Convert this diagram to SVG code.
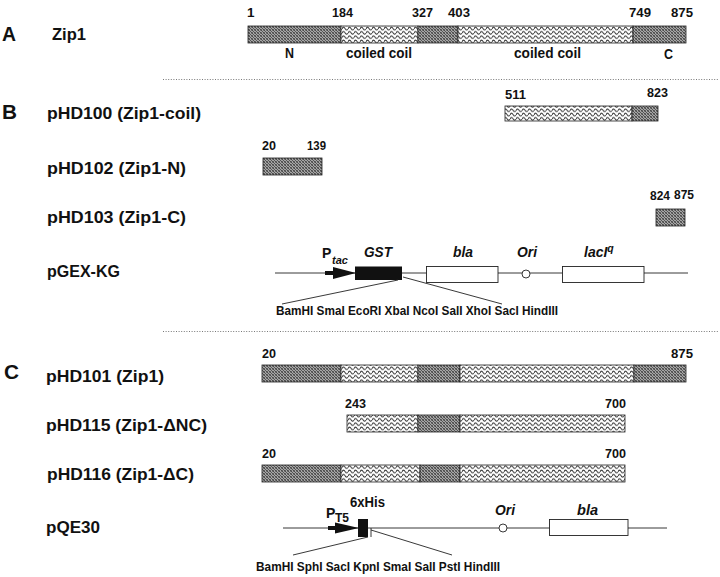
<svg xmlns="http://www.w3.org/2000/svg" width="720" height="577" viewBox="0 0 720 577">
<defs>
<pattern id="dark" patternUnits="userSpaceOnUse" width="3" height="3">
<rect width="3" height="3" fill="#a6a6a6"/>
<rect width="1" height="1" fill="#4a4a4a"/>
<rect x="1" y="1" width="1" height="1" fill="#555"/>
<rect x="2" y="2" width="1" height="1" fill="#4a4a4a"/>
<rect x="2" y="0" width="1" height="1" fill="#777"/>
<rect x="0" y="2" width="1" height="1" fill="#666"/>
</pattern>
<pattern id="coil" patternUnits="userSpaceOnUse" width="6" height="4.3" y="0.5">
<rect width="6" height="4.3" fill="#fff"/>
<path d="M0,2.6 C1,0.5 2,0.5 3,2.2 C4,4 5,4 6,2.6" fill="none" stroke="#333" stroke-width="1"/>
</pattern>
<style>
text{font-family:"Liberation Sans",Arial,sans-serif;font-weight:bold;fill:#111}
.sec{font-size:20px}
.lab{font-size:17px}
.num{font-size:13.5px}
.sm{font-size:14px}
.it{font-style:italic}
.re{font-size:12.5px}
.dk{fill:url(#dark);stroke:#222;stroke-width:0.8}
.cl{fill:url(#coil);stroke:#222;stroke-width:0.8}
.box{fill:#fff;stroke:#222;stroke-width:0.9}
.ln{stroke:#222;stroke-width:0.9;fill:none}
.dot{stroke:#555;stroke-width:0.8;stroke-dasharray:1 1.6;fill:none}
</style>
</defs>
<rect width="720" height="577" fill="#fff"/>

<g id="separators">
<line class="dot" x1="163" y1="79.5" x2="718" y2="79.5"/>
<line class="dot" x1="163" y1="331.5" x2="718" y2="331.5"/>
</g>

<g id="sectionA">
<text class="sec" x="2" y="41" textLength="14" lengthAdjust="spacingAndGlyphs">A</text>
<text class="lab" x="52" y="40" textLength="34" lengthAdjust="spacingAndGlyphs">Zip1</text>
<text class="num" x="247" y="17">1</text>
<text class="num" x="332" y="17" textLength="21" lengthAdjust="spacingAndGlyphs">184</text>
<text class="num" x="412" y="17" textLength="21" lengthAdjust="spacingAndGlyphs">327</text>
<text class="num" x="448" y="17" textLength="22" lengthAdjust="spacingAndGlyphs">403</text>
<text class="num" x="629" y="17" textLength="22" lengthAdjust="spacingAndGlyphs">749</text>
<text class="num" x="671" y="17" textLength="22" lengthAdjust="spacingAndGlyphs">875</text>
<rect class="dk" x="248" y="26" width="93" height="17"/>
<rect class="cl" x="341" y="26" width="77" height="17"/>
<rect class="dk" x="418" y="26" width="40" height="17"/>
<rect class="cl" x="458" y="26" width="175" height="17"/>
<rect class="dk" x="633" y="26" width="53" height="17"/>
<text class="sm" x="285" y="58" textLength="9" lengthAdjust="spacingAndGlyphs">N</text>
<text class="sm" x="346" y="58" textLength="66" lengthAdjust="spacingAndGlyphs">coiled coil</text>
<text class="sm" x="514" y="58" textLength="67" lengthAdjust="spacingAndGlyphs">coiled coil</text>
<text class="sm" x="664" y="59" textLength="9" lengthAdjust="spacingAndGlyphs">C</text>
</g>

<g id="sectionB">
<text class="sec" x="2" y="119" textLength="15" lengthAdjust="spacingAndGlyphs">B</text>
</g>

<g id="pHD100">
<text class="lab" x="47" y="119" textLength="154" lengthAdjust="spacingAndGlyphs">pHD100 (Zip1-coil)</text>
<text class="num" x="505" y="99" textLength="21" lengthAdjust="spacingAndGlyphs">511</text>
<text class="num" x="647" y="97" textLength="21" lengthAdjust="spacingAndGlyphs">823</text>
<rect class="cl" x="505" y="106" width="127" height="15"/>
<rect class="dk" x="632" y="106" width="26" height="15"/>
</g>

<g id="pHD102">
<text class="lab" x="47" y="174" textLength="139" lengthAdjust="spacingAndGlyphs">pHD102 (Zip1-N)</text>
<text class="num" x="262" y="150" textLength="14" lengthAdjust="spacingAndGlyphs">20</text>
<text class="num" x="307" y="150" textLength="19" lengthAdjust="spacingAndGlyphs">139</text>
<rect class="dk" x="263" y="158" width="59" height="17"/>
</g>

<g id="pHD103">
<text class="lab" x="47" y="223" textLength="139" lengthAdjust="spacingAndGlyphs">pHD103 (Zip1-C)</text>
<text class="num" x="650" y="200" textLength="20" lengthAdjust="spacingAndGlyphs">824</text>
<text class="num" x="674" y="199" textLength="20" lengthAdjust="spacingAndGlyphs">875</text>
<rect class="dk" x="656" y="209" width="29" height="17"/>
</g>

<g id="pGEX-KG">
<text class="lab" x="47" y="277" textLength="73" lengthAdjust="spacingAndGlyphs">pGEX-KG</text>
<text class="sm" x="322" y="258">P</text>
<text class="it" x="332" y="264" font-size="11">tac</text>
<text class="sm it" x="364" y="257" textLength="28" lengthAdjust="spacingAndGlyphs">GST</text>
<text class="sm it" x="453" y="257" textLength="20" lengthAdjust="spacingAndGlyphs">bla</text>
<text class="sm it" x="517" y="257" textLength="20" lengthAdjust="spacingAndGlyphs">Ori</text>
<text class="sm it" x="584" y="257">lacI<tspan font-size="10.5" dy="-5">q</tspan></text>
</g>

<g id="sectionC">
<text class="sec" x="4" y="379" textLength="15" lengthAdjust="spacingAndGlyphs">C</text>
</g>

<g id="pHD101">
<text class="lab" x="46" y="382" textLength="118" lengthAdjust="spacingAndGlyphs">pHD101 (Zip1)</text>
<text class="num" x="262" y="358" textLength="14" lengthAdjust="spacingAndGlyphs">20</text>
<text class="num" x="671" y="358" textLength="22" lengthAdjust="spacingAndGlyphs">875</text>
<rect class="dk" x="262" y="365" width="79" height="17"/>
<rect class="cl" x="341" y="365" width="77" height="17"/>
<rect class="dk" x="418" y="365" width="42" height="17"/>
<rect class="cl" x="460" y="365" width="174" height="17"/>
<rect class="dk" x="634" y="365" width="52" height="17"/>
</g>

<g id="pHD115">
<text class="lab" x="46" y="431" textLength="161" lengthAdjust="spacingAndGlyphs">pHD115 (Zip1-ΔNC)</text>
<text class="num" x="345" y="408" textLength="21" lengthAdjust="spacingAndGlyphs">243</text>
<text class="num" x="605" y="408" textLength="21" lengthAdjust="spacingAndGlyphs">700</text>
<rect class="cl" x="347" y="415" width="71" height="17"/>
<rect class="dk" x="418" y="415" width="42" height="17"/>
<rect class="cl" x="460" y="415" width="165" height="17"/>
</g>

<g id="pHD116">
<text class="lab" x="47" y="480" textLength="147" lengthAdjust="spacingAndGlyphs">pHD116 (Zip1-ΔC)</text>
<text class="num" x="262" y="458" textLength="14" lengthAdjust="spacingAndGlyphs">20</text>
<text class="num" x="605" y="458" textLength="21" lengthAdjust="spacingAndGlyphs">700</text>
<rect class="dk" x="262" y="465" width="79" height="17"/>
<rect class="cl" x="341" y="465" width="79" height="17"/>
<rect class="dk" x="420" y="465" width="40" height="17"/>
<rect class="cl" x="460" y="465" width="165" height="17"/>
</g>

<g id="pQE30">
<text class="lab" x="46" y="533" textLength="54" lengthAdjust="spacingAndGlyphs">pQE30</text>
<text class="sm" x="326" y="518">P</text>
<text font-size="12" x="335" y="522">T5</text>
<text class="sm" x="350" y="507" textLength="35" lengthAdjust="spacingAndGlyphs">6xHis</text>
<text class="sm it" x="495" y="515" textLength="20" lengthAdjust="spacingAndGlyphs">Ori</text>
<text class="sm it" x="577" y="515" textLength="21" lengthAdjust="spacingAndGlyphs">bla</text>
</g>

<g id="connectors">
<line class="ln" x1="275" y1="273" x2="688" y2="273"/>
<rect x="325" y="271" width="10" height="4" fill="#111"/>
<polygon points="333,267 356,273 333,279" fill="#111"/>
<rect x="355" y="266.5" width="47" height="13.5" fill="#111"/>
<rect class="box" x="426.5" y="266.5" width="71.5" height="16"/>
<circle cx="526" cy="274" r="4" fill="#fff" stroke="#222" stroke-width="0.9"/>
<rect class="box" x="562.5" y="266.5" width="81.5" height="16"/>
<line class="ln" x1="398" y1="280" x2="282" y2="304"/>
<line class="ln" x1="403" y1="277" x2="502" y2="304"/>
<text class="re" x="276" y="315" textLength="282" lengthAdjust="spacingAndGlyphs">BamHI SmaI EcoRI XbaI NcoI SalI XhoI SacI HindIII</text>
<line class="ln" x1="283" y1="528" x2="667" y2="528"/>
<rect x="328" y="526" width="9" height="4" fill="#111"/>
<polygon points="335,522.5 359,528 335,533.5" fill="#111"/>
<rect x="358" y="519" width="10" height="18" fill="#111"/>
<line class="ln" x1="371" y1="528" x2="371" y2="537"/>
<circle cx="503" cy="528" r="4" fill="#fff" stroke="#222" stroke-width="0.9"/>
<rect class="box" x="549.5" y="519.5" width="78.5" height="16"/>
<line class="ln" x1="368" y1="537" x2="293" y2="555"/>
<line class="ln" x1="371" y1="530" x2="452" y2="555"/>
<text class="re" x="256" y="571" textLength="244" lengthAdjust="spacingAndGlyphs">BamHI SphI SacI KpnI SmaI SalI PstI HindIII</text>
</g>
</svg>
